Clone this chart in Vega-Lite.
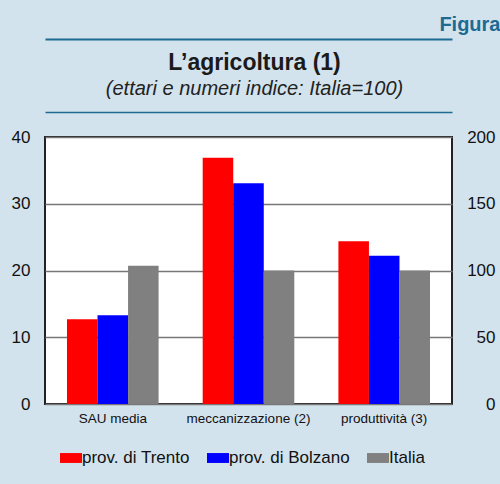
{
  "$schema": "https://vega.github.io/schema/vega-lite/v6.json",
  "width": 407,
  "height": 267,
  "autosize": {"type": "none"},
  "padding": {"left": 45, "top": 137, "right": 48, "bottom": 80},
  "background": "#d3e3ed",
  "config": {
    "font": "Liberation Sans",
    "view": {"fill": "#ffffff", "stroke": "#222222", "strokeWidth": 2},
    "axis": {"labelFont": "Liberation Sans", "labelColor": "#111111", "titleFont": "Liberation Sans"}
  },
  "title": {
    "text": "L’agricoltura (1)",
    "subtitle": "(ettari e numeri indice: Italia=100)",
    "anchor": "middle",
    "frame": "group",
    "fontSize": 23,
    "fontWeight": "bold",
    "color": "#1a1a1a",
    "font": "Liberation Sans",
    "subtitleFont": "Liberation Sans",
    "subtitleFontSize": 20,
    "subtitleFontStyle": "italic",
    "subtitleColor": "#222222",
    "subtitlePadding": 4,
    "offset": -85,
    "dx": 6
  },
  "data": {
    "values": [
      {"categoria": "SAU media", "serie": "prov. di Trento", "valore": 12.7, "misura": "ettari"},
      {"categoria": "SAU media", "serie": "prov. di Bolzano", "valore": 13.3, "misura": "ettari"},
      {"categoria": "SAU media", "serie": "Italia", "valore": 20.7, "misura": "ettari"},
      {"categoria": "meccanizzazione (2)", "serie": "prov. di Trento", "valore": 184.5, "misura": "indice"},
      {"categoria": "meccanizzazione (2)", "serie": "prov. di Bolzano", "valore": 165.3, "misura": "indice"},
      {"categoria": "meccanizzazione (2)", "serie": "Italia", "valore": 100, "misura": "indice"},
      {"categoria": "produttività (3)", "serie": "prov. di Trento", "valore": 122, "misura": "indice"},
      {"categoria": "produttività (3)", "serie": "prov. di Bolzano", "valore": 111, "misura": "indice"},
      {"categoria": "produttività (3)", "serie": "Italia", "valore": 100, "misura": "indice"}
    ]
  },
  "layer": [
    {
      "transform": [{"filter": "datum.categoria === 'SAU media'"}],
      "mark": {"type": "bar"},
      "encoding": {
        "x": {
          "field": "categoria", "type": "nominal",
          "scale": {"domain": ["SAU media", "meccanizzazione (2)", "produttività (3)"], "paddingInner": 0.325, "paddingOuter": 0.162},
          "axis": {"orient": "bottom", "title": null, "labelAngle": 0, "labelFontSize": 13.5, "ticks": false, "domain": false, "labelPadding": 7}
        },
        "xOffset": {
          "field": "serie", "type": "nominal",
          "scale": {"domain": ["prov. di Trento", "prov. di Bolzano", "Italia"], "paddingInner": 0, "paddingOuter": 0}
        },
        "y": {
          "field": "valore", "type": "quantitative",
          "scale": {"domain": [0, 40], "nice": false},
          "axis": {"orient": "left", "title": null, "values": [0, 10, 20, 30, 40], "grid": true, "gridColor": "#777777", "gridWidth": 1.5, "ticks": false, "domain": false, "labelFontSize": 17, "labelPadding": 15, "labelBaseline": "middle"}
        },
        "color": {
          "field": "serie", "type": "nominal",
          "scale": {"domain": ["prov. di Trento", "prov. di Bolzano", "Italia"], "range": ["#ff0000", "#0000ff", "#808080"]},
          "legend": {"title": null, "orient": "none", "legendX": 15, "legendY": 310, "direction": "horizontal", "symbolType": "M-1,-0.45H1V0.45H-1Z", "symbolSize": 484, "symbolStrokeWidth": 0, "labelFontSize": 17, "labelColor": "#111111", "labelFont": "Liberation Sans", "labelOffset": 0, "columnPadding": 17, "padding": 0}
        }
      }
    },
    {
      "transform": [{"filter": "datum.categoria === 'meccanizzazione (2)'"}],
      "mark": {"type": "bar"},
      "encoding": {
        "x": {
          "field": "categoria", "type": "nominal",
          "axis": {"orient": "top", "offset": 25, "title": null, "labels": false, "ticks": false, "domain": true, "domainColor": "#1d6a93", "domainWidth": 1.5}
        },
        "xOffset": {"field": "serie", "type": "nominal"},
        "y": {
          "field": "valore", "type": "quantitative",
          "scale": {"domain": [0, 200], "nice": false},
          "axis": {"orient": "right", "title": null, "values": [0, 50, 100, 150, 200], "grid": false, "ticks": false, "domain": false, "labelFontSize": 17, "labelAlign": "right", "labelPadding": 43, "labelBaseline": "middle"}
        },
        "color": {"field": "serie", "type": "nominal"}
      }
    },
    {
      "transform": [{"filter": "datum.categoria === 'produttività (3)'"}],
      "mark": {"type": "bar"},
      "encoding": {
        "x": {
          "field": "categoria", "type": "nominal",
          "axis": {"orient": "top", "offset": 98, "labels": false, "ticks": false, "domain": true, "domainColor": "#1d6a93", "domainWidth": 2.2, "title": "Figura", "titleX": 455, "titleY": -9, "titleAlign": "right", "titleBaseline": "alphabetic", "titleAngle": 0, "titleFontSize": 20, "titleFontWeight": "bold", "titleColor": "#1d6a93"}
        },
        "xOffset": {"field": "serie", "type": "nominal"},
        "y": {
          "field": "valore", "type": "quantitative",
          "scale": {"domain": [0, 200], "nice": false},
          "axis": null
        },
        "color": {"field": "serie", "type": "nominal"}
      }
    }
  ],
  "resolve": {"scale": {"y": "independent"}, "axis": {"x": "independent"}}
}
